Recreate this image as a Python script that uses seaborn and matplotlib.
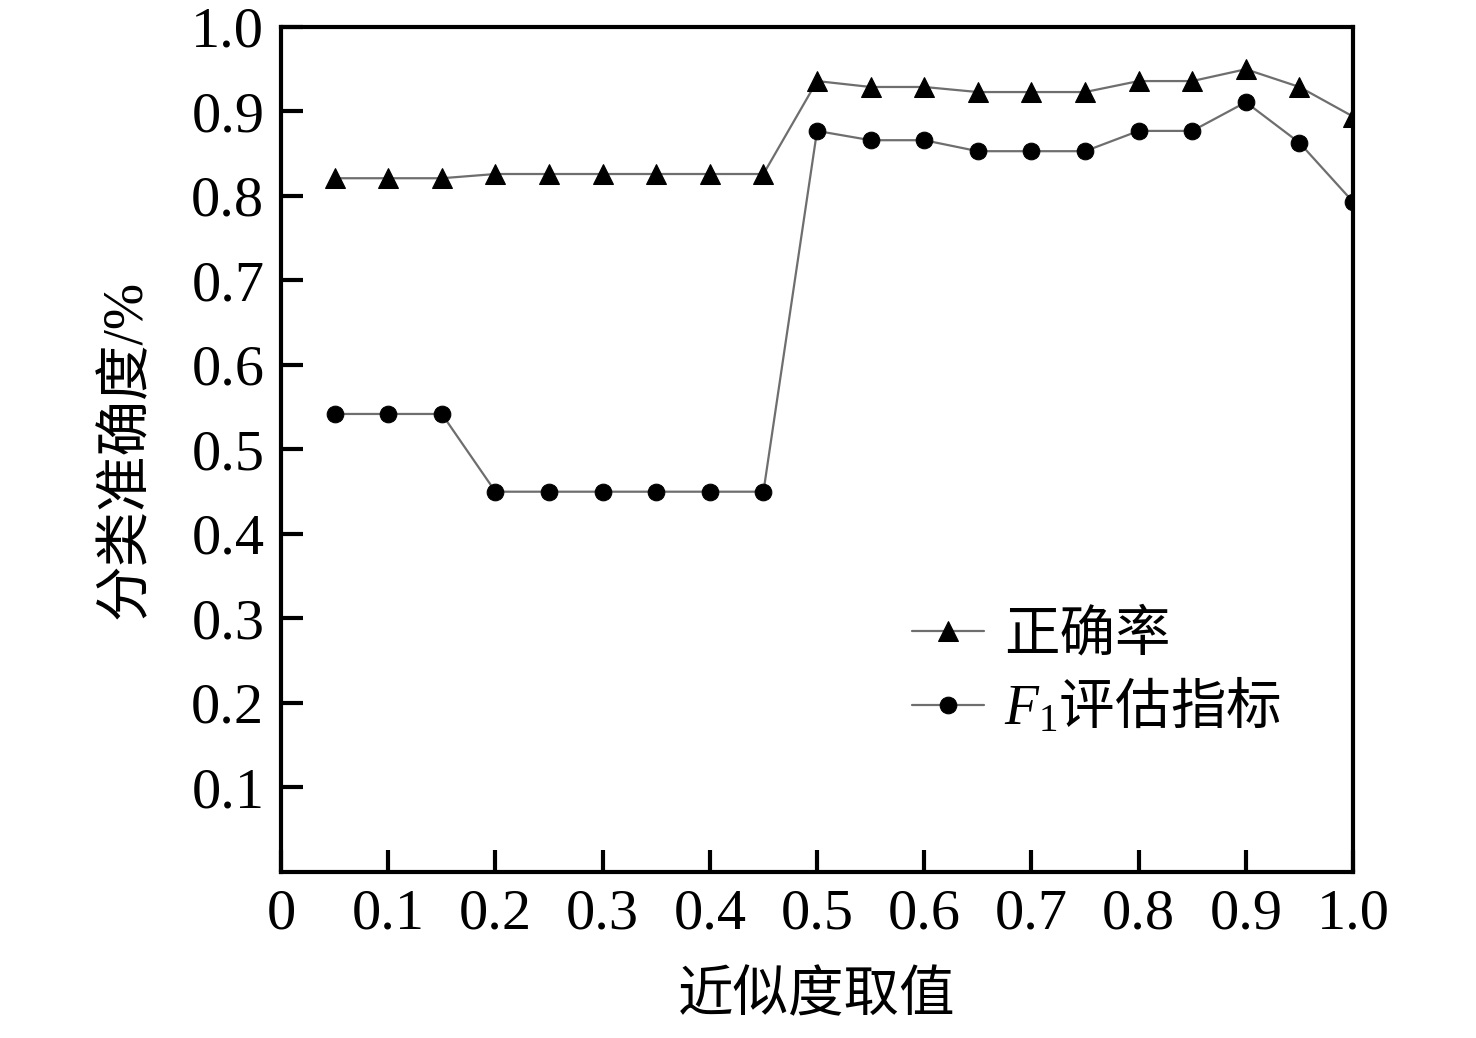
"""
Reproduce the approximation-degree vs classification accuracy chart.
"""

import numpy as np
import pandas as pd
import matplotlib
matplotlib.use("Agg")
import matplotlib.pyplot as plt
import seaborn as sns

# data
thresholds = [0.05, 0.10, 0.15, 0.20, 0.25, 0.30, 0.35, 0.40, 0.45, 0.50,
              0.55, 0.60, 0.65, 0.70, 0.75, 0.80, 0.85, 0.90, 0.95, 1.00]
accuracy = [0.821, 0.821, 0.821, 0.826, 0.826, 0.826, 0.826, 0.826, 0.826, 0.936,
            0.929, 0.929, 0.923, 0.923, 0.923, 0.936, 0.936, 0.950, 0.929, 0.894]
f1_score = [0.542, 0.542, 0.542, 0.450, 0.450, 0.450, 0.450, 0.450, 0.450, 0.877,
            0.866, 0.866, 0.853, 0.853, 0.853, 0.877, 0.877, 0.911, 0.863, 0.793]
x_ticks = [0, 0.1, 0.2, 0.3, 0.4, 0.5, 0.6, 0.7, 0.8, 0.9, 1.0]
x_tick_labels = ["0", "0.1", "0.2", "0.3", "0.4", "0.5", "0.6", "0.7", "0.8", "0.9", "1.0"]
y_ticks = [0.1, 0.2, 0.3, 0.4, 0.5, 0.6, 0.7, 0.8, 0.9, 1.0]
series_names = ["正确率", "$F_{1}$评估指标"]

sns.set_style("ticks")
plt.rcParams['font.family'] = ['Liberation Serif', 'Noto Sans CJK SC', 'DejaVu Sans']
plt.rcParams['text.color'] = 'black'
plt.rcParams['axes.labelcolor'] = 'black'
plt.rcParams['xtick.color'] = 'black'
plt.rcParams['ytick.color'] = 'black'
# mathtext: italic F in serif; the plain CJK part uses the text's own font
plt.rcParams['mathtext.fontset'] = 'custom'
plt.rcParams['mathtext.it'] = 'Liberation Serif:italic'
plt.rcParams['mathtext.rm'] = 'Liberation Serif'

df = pd.DataFrame({
    "x": thresholds * 2,
    "y": accuracy + f1_score,
    "series": [series_names[0]] * len(thresholds) + [series_names[1]] * len(thresholds),
})

fig = plt.figure(figsize=(14.76, 10.38), dpi=100)
ax = fig.add_axes([0.1904, 0.160, 0.7263, 0.814])

for name, marker, msize in zip(series_names, ["^", "o"], [14, 12]):
    sub = df[df["series"] == name]
    sns.lineplot(data=sub, x="x", y="y", ax=ax, color="#6e6e6e", linewidth=1.6,
                 marker=marker, markersize=msize, markerfacecolor="black",
                 markeredgecolor="black", label=name)

ax.set_xlim(0, 1.0)
ax.set_ylim(0, 1.0)
ax.set_xticks(x_ticks)
ax.set_xticklabels(x_tick_labels)
ax.set_yticks(y_ticks)
ax.set_yticklabels([f"{v:.1f}" for v in y_ticks])
ax.tick_params(direction="in", length=16, width=3, labelsize=42, pad=12,
               top=False, right=False)
for side in ["left", "right", "top", "bottom"]:
    ax.spines[side].set_visible(True)
    ax.spines[side].set_linewidth(3)
    ax.spines[side].set_color("black")

ax.set_xlabel("近似度取值", fontsize=40, labelpad=22)
ax.set_ylabel("分类准确度/%", fontsize=40, labelpad=28)

leg = ax.legend(loc="upper left", bbox_to_anchor=(0.568, 0.336), frameon=False,
                fontsize=40, handlelength=1.3, handletextpad=0.35, labelspacing=0.28,
                borderaxespad=0)
# non-math part of a mathtext string uses the text's first family only
leg.get_texts()[1].set_fontfamily('Noto Sans CJK SC')

fig.savefig("out.png", dpi=100)
plt.close(fig)
